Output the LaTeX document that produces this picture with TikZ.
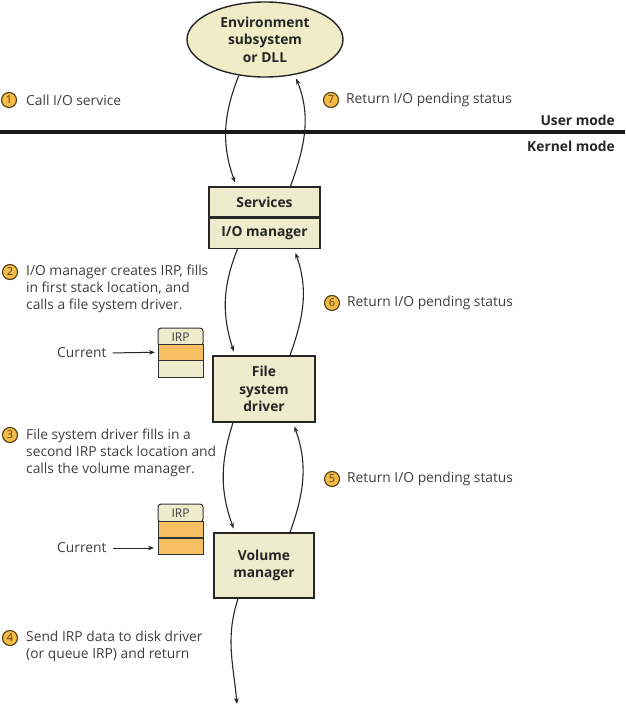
\documentclass[tikz,border=0pt]{standalone}
\usepackage{fontspec}
\setmainfont{Open Sans}
\usetikzlibrary{arrows.meta,positioning,shapes.geometric}
\definecolor{boxfill}{RGB}{239,235,205}
\definecolor{ovalfill}{RGB}{241,236,200}
\definecolor{stackorange}{RGB}{247,192,98}
\definecolor{numfill}{RGB}{244,187,70}
\definecolor{numline}{RGB}{80,62,20}
\definecolor{txtgray}{RGB}{62,62,62}
\tikzset{
  comp/.style={draw=black!85, line width=1.4pt, fill=boxfill, align=center, inner sep=0pt,
    font=\bfseries\fontsize{13.8}{17.5}\selectfont, text=black!85},
  stepnum/.style={circle, draw=numline, line width=1.1pt, fill=numfill, inner sep=0pt,
    minimum size=15pt, font=\fontsize{11}{11}\selectfont, text=numline},
  steptext/.style={anchor=west, align=left, inner sep=0pt,
    font=\fontsize{13.8}{17}\selectfont, text=txtgray},
  modetext/.style={anchor=east, inner sep=0pt, font=\bfseries\fontsize{13.8}{17}\selectfont, text=black!85},
  flow/.style={-{Stealth[length=6pt,width=4.5pt]}, line width=1.1pt, black!85, shorten >=4pt},
  slot/.style={draw=black!80, line width=1pt, minimum width=45pt, minimum height=16.5pt,
    inner sep=0pt, outer sep=0pt, anchor=north west},
  irphead/.style={slot, fill=boxfill, rounded corners=3pt, minimum height=18pt,
    font=\fontsize{12}{12}\selectfont, text=txtgray, text depth=0pt},
}
\begin{document}
\begin{tikzpicture}[x=1pt,y=1pt]
\useasboundingbox (0,0) rectangle (625,-706);
% boundary between the two modes
\draw[line width=3.5pt, black!90] (0,-132) -- (625,-132);
\node[modetext] (user) at (615,-120) {User mode};
\node[modetext] (kernel) at (615,-146) {Kernel mode};

% components
\node[comp, ellipse, fill=ovalfill, minimum width=156pt, minimum height=75pt] (env) at (265,-39.5) {Environment\\subsystem\\or DLL};
\node[comp, minimum width=111pt, minimum height=30pt] (svc) at (264.5,-202) {Services};
\node[comp, minimum width=111pt, minimum height=30pt, below=0pt of svc] (iom) {I/O manager};
\node[comp, minimum width=102pt, minimum height=66pt] (fsd) at (264,-389) {File\\system\\driver};
\node[comp, minimum width=100pt, minimum height=65pt] (vm) at (264,-565.5) {Volume\\manager};
\coordinate (disk) at (237,-705);

% IRP stack locations
\node[irphead] (irpA) at (158,-328) {IRP};
\node[slot, fill=stackorange] (curA) at (158,-344) {};
\node[slot, fill=boxfill] (freeA) at (158,-360.5) {};
\node[irphead] (irpB) at (158,-504) {IRP};
\node[slot, fill=stackorange] (oldB) at (158,-521) {};
\node[slot, fill=stackorange] (curB) at (158,-538) {};

\node[steptext] (lblA) at (57,-353) {Current};
\node[steptext] (lblB) at (57,-548) {Current};
\draw[flow, line width=1pt, shorten <=6pt, shorten >=3pt] (lblA.east) -- (curA.west);
\draw[flow, line width=1pt, shorten <=6pt, shorten >=4pt] (lblB.east) -- (lblB.east -| curB.west);

% steps
\node[stepnum] (n1) at (9,-100) {1};
\node[steptext] (t1) at (26,-100) {Call I/O service};
\node[stepnum] (n2) at (10,-272) {2};
\node[steptext] (t2) at (26,-289) {I/O manager creates IRP, fills\\in first stack location, and\\calls a file system driver.};
\node[stepnum] (n3) at (10,-435) {3};
\node[steptext] (t3) at (26,-453) {File system driver fills in a\\second IRP stack location and\\calls the volume manager.};
\node[stepnum] (n4) at (10,-638) {4};
\node[steptext] (t4) at (26,-646.5) {Send IRP data to disk driver\\(or queue IRP) and return};
\node[stepnum] (n5) at (332,-479) {5};
\node[steptext] (t5) at (347,-479) {Return I/O pending status};
\node[stepnum] (n6) at (332,-303) {6};
\node[steptext] (t6) at (347,-303) {Return I/O pending status};
\node[stepnum] (n7) at (331,-100) {7};
\node[steptext] (t7) at (346,-100) {Return I/O pending status};

% calls down, status back up
\draw[flow] (env.234) to[out=-112,in=110] ([xshift=-28pt]svc.north);
\draw[flow] ([xshift=26pt]svc.north) to[out=70,in=-68] (env.-50);
\draw[flow] ([xshift=-27pt]iom.south) to[out=-112,in=108] ([xshift=-29pt]fsd.north);
\draw[flow] ([xshift=26pt]fsd.north) to[out=70,in=-70] ([xshift=29.5pt]iom.south);
\draw[flow] ([xshift=-31pt]fsd.south) to[out=-108,in=110] ([xshift=-29pt]vm.north);
\draw[flow] ([xshift=26pt]vm.north) to[out=70,in=-70] ([xshift=29pt]fsd.south);
\draw[flow, shorten >=1pt] ([xshift=-26pt]vm.south) to[out=-108,in=95] (disk);
\end{tikzpicture}
\end{document}
